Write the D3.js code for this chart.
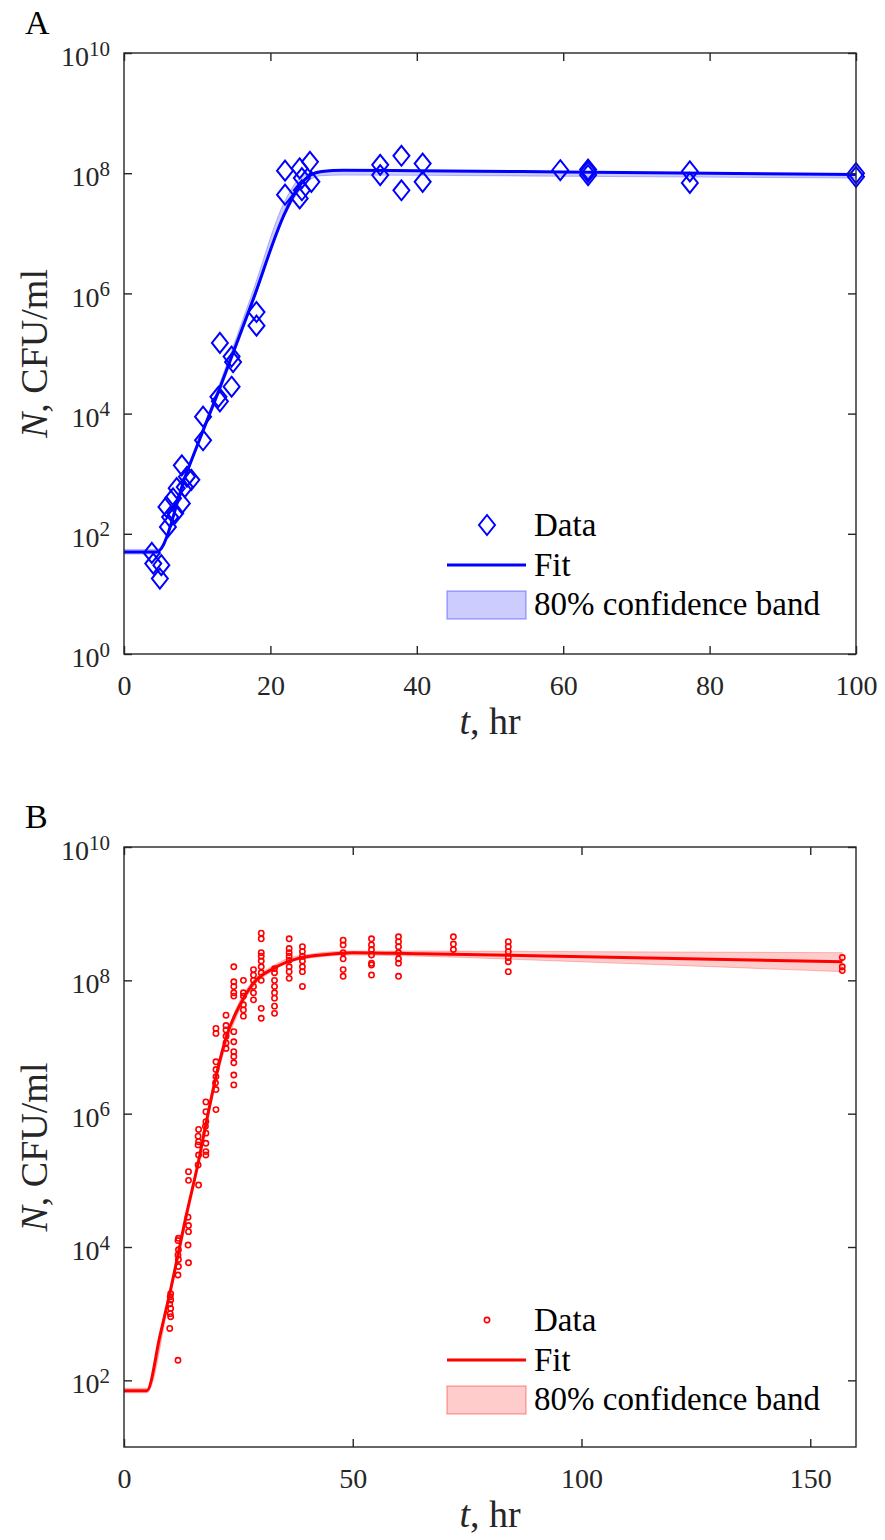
<!DOCTYPE html>
<html lang="en">
<head>
    <meta charset="UTF-8">
    <title>Growth curves</title>
    <script src="https://d3js.org/d3.v7.min.js"></script>
    <style>
        body { margin: 0; background: #fff; }
        svg text { font-family: 'Liberation Serif', 'DejaVu Serif', serif; }
        .tick text { font-size: 28px; fill: #262626; }
        .tick line { stroke: #262626; stroke-width: 1.4; }
        .frame { fill: none; stroke: #262626; stroke-width: 1.4; }
        .axis-label { font-size: 38px; fill: #262626; }
        .legend-text { font-size: 33px; fill: #000; }
        .panel-letter { font-size: 34px; fill: #000; }
    </style>
</head>
<body>
<script>
// ---- panel A (diamonds, blue) ----
const dataA_t = [3.8, 4.0, 5.1, 4.9,
    6.0, 6.3, 5.8, 6.7, 7.2, 7.9, 8.3, 7.9, 9.2, 8.6, 7.0,
    10.8, 10.8, 13.1, 12.9, 13.1, 14.7, 14.7, 14.9, 18.1, 18.1,
    22.0, 22.0, 24.0, 25.4, 24.3, 24.0, 25.6, 24.3,
    35, 35, 37.9, 37.9, 40.8, 40.8, 59.6, 63.4, 63.4, 63.4, 77.3, 77.3, 100, 100];
const dataA_n = [48, 32, 30, 18,
    130, 190, 280, 390, 575, 320, 600, 1380, 790, 890, 220,
    3.6e3, 8.9e3, 1.6e4, 1.9e4, 1.5e5, 2.8e4, 8.9e4, 7.2e4, 4.9e5, 2.9e5,
    1.1e8, 4.4e7, 1.2e8, 1.55e8, 8.3e7, 3.8e7, 7.2e7, 5.2e7,
    1.38e8, 9.3e7, 1.95e8, 5.2e7, 1.45e8, 7.2e7, 1.12e8, 1.15e8, 9.3e7, 1.05e8, 1.07e8, 6.9e7, 1.0e8, 8.7e7];

const fitA_t = [0, 4.5, 8.5, 13, 17.5, 22, 24, 25.5, 27, 30, 40, 60, 80, 100];
const fitA_n = [50, 50, 1.0e3, 2.5e4, 7.1e5, 2.2e7, 6.3e7, 9.3e7, 1.07e8, 1.12e8, 1.10e8, 1.05e8, 1.0e8, 9.5e7];

const bandA_t  = [0, 4.5, 8.5, 13, 17.5, 22, 24, 25.5, 27, 30, 60, 100];
const bandA_lo = [46, 46, 9.3e2, 2.2e4, 6.3e5, 2.0e7, 5.2e7, 7.9e7, 9.1e7, 9.3e7, 8.9e7, 8.3e7];
const bandA_hi = [55, 55, 1.1e3, 3.0e4, 1.0e6, 3.5e7, 8.3e7, 1.0e8, 1.1e8, 1.12e8, 1.05e8, 9.8e7];

// ---- panel B (circles, red) ----
const dataB_t = [
    10.2, 10.1, 10.2, 10.0, 10.2, 10.1, 10.2, 10.0,
    11.8,
    11.9, 11.8, 11.9, 11.8, 11.9, 11.9, 11.8,
    14.1, 14.1, 14.0, 14.1, 14.1, 14.0, 14.1,
    16.3, 16.2, 16.3, 16.2, 16.3, 16.2, 16.3,
    17.9, 17.9, 17.9, 17.8, 17.9, 17.9, 17.9, 17.9,
    20.1, 20.1, 20.1, 20.1, 20.1, 20.0, 20.1, 20.1,
    22.3, 22.3, 22.3, 22.3, 22.3, 22.3,
    24.0, 24.0, 24.0, 24.0, 24.0, 24.0, 24.0, 24.0, 24.0, 24.0, 24.0, 24.0,
    26.1, 26.1, 26.1, 26.1, 26.1, 26.1,
    28.3, 28.3, 28.3, 28.3, 28.3, 28.3,
    30.0, 30.0, 30.0, 30.0, 30.0, 30.0, 30.0, 30.0, 30.0, 30.0,
    32.9, 32.9, 32.9, 32.9, 32.9, 32.9, 32.9, 32.9,
    36.1, 36.1, 36.1, 36.1, 36.1, 36.1, 36.1, 36.1,
    39.0, 39.0, 39.0, 39.0, 39.0, 39.0, 39.0,
    47.9, 47.9, 47.9, 47.9, 47.9, 47.9,
    54.1, 54.1, 54.1, 54.1, 54.1, 54.1, 54.1,
    60.0, 60.0, 60.0, 60.0, 60.0, 60.0, 60.0,
    72, 72, 72,
    84, 84, 84, 84, 84, 84,
    157, 157, 157];
const dataB_n = [
    2.0e3, 1.8e3, 1.6e3, 1.4e3, 1.2e3, 1.0e3, 9e2, 6e2,
    2e2,
    1.35e4, 1.25e4, 9.1e3, 7.6e3, 6.5e3, 5.1e3, 3.8e3,
    1.35e5, 1.0e5, 2.8e4, 2.1e4, 1.7e4, 1.07e4, 5.8e3,
    5.8e5, 4.6e5, 3.8e5, 3.4e5, 2.4e5, 1.7e5, 8.5e4,
    1.5e6, 1.07e6, 7.6e5, 6.5e5, 5.1e5, 3.6e5, 2.7e5, 2.4e5,
    1.9e7, 1.6e7, 6.0e6, 4.6e6, 3.6e6, 2.9e6, 2.3e6, 1.15e6,
    3.0e7, 2.1e7, 1.8e7, 1.45e7, 1.15e7, 9.5e6,
    1.6e8, 9.5e7, 8.1e7, 6.5e7, 5.8e7, 1.7e7, 1.2e7, 8.5e6, 7.2e6, 5.8e6, 3.8e6, 2.7e6,
    1.0e8, 6.5e7, 5.8e7, 4.3e7, 3.6e7, 2.9e7,
    1.45e8, 1.2e8, 1.0e8, 8.1e7, 6.5e7, 5.1e7,
    5.1e8, 4.2e8, 2.6e8, 2.3e8, 1.95e8, 1.6e8, 1.3e8, 1.0e8, 3.8e7, 2.7e7,
    1.5e8, 1.3e8, 1.0e8, 8.1e7, 6.5e7, 5.4e7, 4.1e7, 3.2e7,
    4.2e8, 3.0e8, 2.6e8, 2.3e8, 2.0e8, 1.6e8, 1.35e8, 1.07e8,
    3.2e8, 2.7e8, 2.3e8, 1.95e8, 1.6e8, 1.35e8, 8.1e7,
    4.0e8, 3.4e8, 2.6e8, 2.1e8, 1.45e8, 1.15e8,
    4.2e8, 3.4e8, 2.9e8, 2.4e8, 1.8e8, 1.7e8, 1.2e8,
    4.5e8, 3.8e8, 3.2e8, 2.6e8, 2.1e8, 1.8e8, 1.15e8,
    4.5e8, 3.5e8, 2.9e8,
    3.8e8, 3.2e8, 2.7e8, 2.2e8, 1.9e8, 1.35e8,
    2.2e8, 1.6e8, 1.4e8];

const fitB_t = [0, 5, 7.9, 10, 13.7, 16.2, 18.1, 20.3, 22.4, 25.6, 28.3, 32.6, 37.7, 44.3, 50, 65, 95, 157];
const fitB_n = [70, 70, 4.8e2, 2.0e3, 3.2e4, 1.8e5, 8.1e5, 4.1e6, 1.45e7, 4.6e7, 9.1e7, 1.5e8, 2.1e8, 2.45e8, 2.6e8, 2.5e8, 2.3e8, 1.9e8];

const bandB_t  = [0, 5, 10, 16.2, 20.3, 25.6, 28.3, 32.6, 37.7, 50, 65, 95, 157];
const bandB_lo = [65, 65, 1.8e3, 1.6e5, 3.5e6, 4.0e7, 8.1e7, 1.4e8, 2.0e8, 2.4e8, 2.3e8, 1.95e8, 1.35e8];
const bandB_hi = [76, 76, 2.3e3, 2.1e5, 4.8e6, 5.4e7, 1.0e8, 1.66e8, 2.3e8, 2.75e8, 2.75e8, 2.7e8, 2.6e8];

const legendLabels = ["Data", "Fit", "80% confidence band"];

const svg = d3.select("body").append("svg")
    .attr("width", 885)
    .attr("height", 1540);

const left = 124, right = 856;
const tickLen = 8;

function supLabel(sel) {
    sel.each(function(d) {
        const t = d3.select(this);
        const e = Math.round(Math.log10(d));
        t.text(null);
        t.append("tspan").text("10");
        t.append("tspan").attr("dy", "-0.5em").style("font-size", "21px").text(e);
    });
}

function panel(o) {
    const x = d3.scaleLinear().domain(o.xDomain).range([left, right]);
    const y = d3.scaleLog().domain(o.yDomain).range([o.bottom, o.top]);
    const g = svg.append("g");

    // confidence band
    const band = o.band_t.map((t, i) => ({t: t, lo: o.band_lo[i], hi: o.band_hi[i]}));
    g.append("path")
        .datum(band)
        .attr("d", d3.area().curve(d3.curveMonotoneX)
            .x(d => x(d.t)).y0(d => y(d.lo)).y1(d => y(d.hi)))
        .attr("fill", o.color).attr("fill-opacity", 0.2)
        .attr("stroke", o.color).attr("stroke-opacity", 0.25).attr("stroke-width", 1);

    // fit line
    const fit = o.fit_t.map((t, i) => ({t: t, n: o.fit_n[i]}));
    g.append("path")
        .datum(fit)
        .attr("d", d3.line().curve(d3.curveMonotoneX).x(d => x(d.t)).y(d => y(d.n)))
        .attr("fill", "none").attr("stroke", o.color).attr("stroke-width", 3);

    // data markers
    const pts = o.data_t.map((t, i) => ({t: t, n: o.data_n[i]}));
    g.append("g").selectAll("path")
        .data(pts)
        .join("path")
        .attr("transform", d => `translate(${x(d.t)},${y(d.n)})`)
        .attr("d", o.marker)
        .attr("fill", "none")
        .attr("stroke", o.color)
        .attr("stroke-width", o.markerWidth);

    // axes (ticks point inwards, on all four sides)
    const fix = a => a.attr("font-family", null).attr("font-size", null).select(".domain").remove();
    g.append("g").attr("transform", `translate(0,${o.bottom})`)
        .call(d3.axisBottom(x).tickValues(o.xTicks).tickSize(-tickLen).tickPadding(16).tickFormat(d3.format("d")))
        .call(fix)
        .call(a => a.selectAll("text").attr("dy", "0.9em"));
    g.append("g").attr("transform", `translate(0,${o.top})`)
        .call(d3.axisTop(x).tickValues(o.xTicks).tickSize(-tickLen).tickFormat(""))
        .call(fix);
    g.append("g").attr("transform", `translate(${left},0)`)
        .call(d3.axisLeft(y).tickValues(o.yTicks).tickSize(-tickLen).tickPadding(14))
        .call(fix)
        .call(a => a.selectAll(".tick text").attr("dy", "0.45em").call(supLabel));
    g.append("g").attr("transform", `translate(${right},0)`)
        .call(d3.axisRight(y).tickValues(o.yTicks).tickSize(-tickLen).tickFormat(""))
        .call(fix);

    g.append("rect").attr("class", "frame")
        .attr("x", left).attr("y", o.top)
        .attr("width", right - left).attr("height", o.bottom - o.top);

    // axis labels
    const xl = g.append("text").attr("class", "axis-label")
        .attr("x", (left + right) / 2).attr("y", o.bottom + 80)
        .attr("text-anchor", "middle");
    xl.append("tspan").style("font-style", "italic").text("t");
    xl.append("tspan").text(", hr");

    const yl = g.append("text").attr("class", "axis-label")
        .attr("transform", `translate(47,${(o.top + o.bottom) / 2}) rotate(-90)`)
        .attr("text-anchor", "middle");
    yl.append("tspan").style("font-style", "italic").text("N");
    yl.append("tspan").text(", CFU/ml");

    g.append("text").attr("class", "panel-letter")
        .attr("x", 25).attr("y", o.top - 19).text(o.letter);

    // legend
    const lg = g.append("g");
    const ly = o.legendY;
    lg.append("path")
        .attr("transform", `translate(487,${ly})`)
        .attr("d", o.marker).attr("fill", "none")
        .attr("stroke", o.color).attr("stroke-width", o.markerWidth);
    lg.append("line")
        .attr("x1", 447).attr("x2", 526).attr("y1", ly + 40).attr("y2", ly + 40)
        .attr("stroke", o.color).attr("stroke-width", 3);
    lg.append("rect")
        .attr("x", 447).attr("y", ly + 66).attr("width", 79).attr("height", 28)
        .attr("fill", o.color).attr("fill-opacity", 0.2)
        .attr("stroke", o.color).attr("stroke-opacity", 0.3).attr("stroke-width", 1.5);
    lg.selectAll("text")
        .data(legendLabels)
        .join("text")
        .attr("class", "legend-text")
        .attr("x", 534)
        .attr("y", (d, i) => ly + 11 + i * 39.5)
        .text(d => d);
}

const diamond = "M0,-10L8,0L0,10L-8,0Z";
const ring = d3.symbol().type(d3.symbolCircle).size(22)();

panel({
    letter: "A", top: 53, bottom: 654,
    xDomain: [0, 100], yDomain: [1, 1e10],
    xTicks: [0, 20, 40, 60, 80, 100], yTicks: [1, 1e2, 1e4, 1e6, 1e8, 1e10],
    color: "#0000ff", marker: diamond, markerWidth: 2,
    data_t: dataA_t, data_n: dataA_n,
    fit_t: fitA_t, fit_n: fitA_n,
    band_t: bandA_t, band_lo: bandA_lo, band_hi: bandA_hi,
    legendY: 525
});

panel({
    letter: "B", top: 847, bottom: 1447,
    xDomain: [0, 160], yDomain: [10, 1e10],
    xTicks: [0, 50, 100, 150], yTicks: [1e2, 1e4, 1e6, 1e8, 1e10],
    color: "#ff0000", marker: ring, markerWidth: 1.6,
    data_t: dataB_t, data_n: dataB_n,
    fit_t: fitB_t, fit_n: fitB_n,
    band_t: bandB_t, band_lo: bandB_lo, band_hi: bandB_hi,
    legendY: 1320
});
</script>
</body>
</html>
